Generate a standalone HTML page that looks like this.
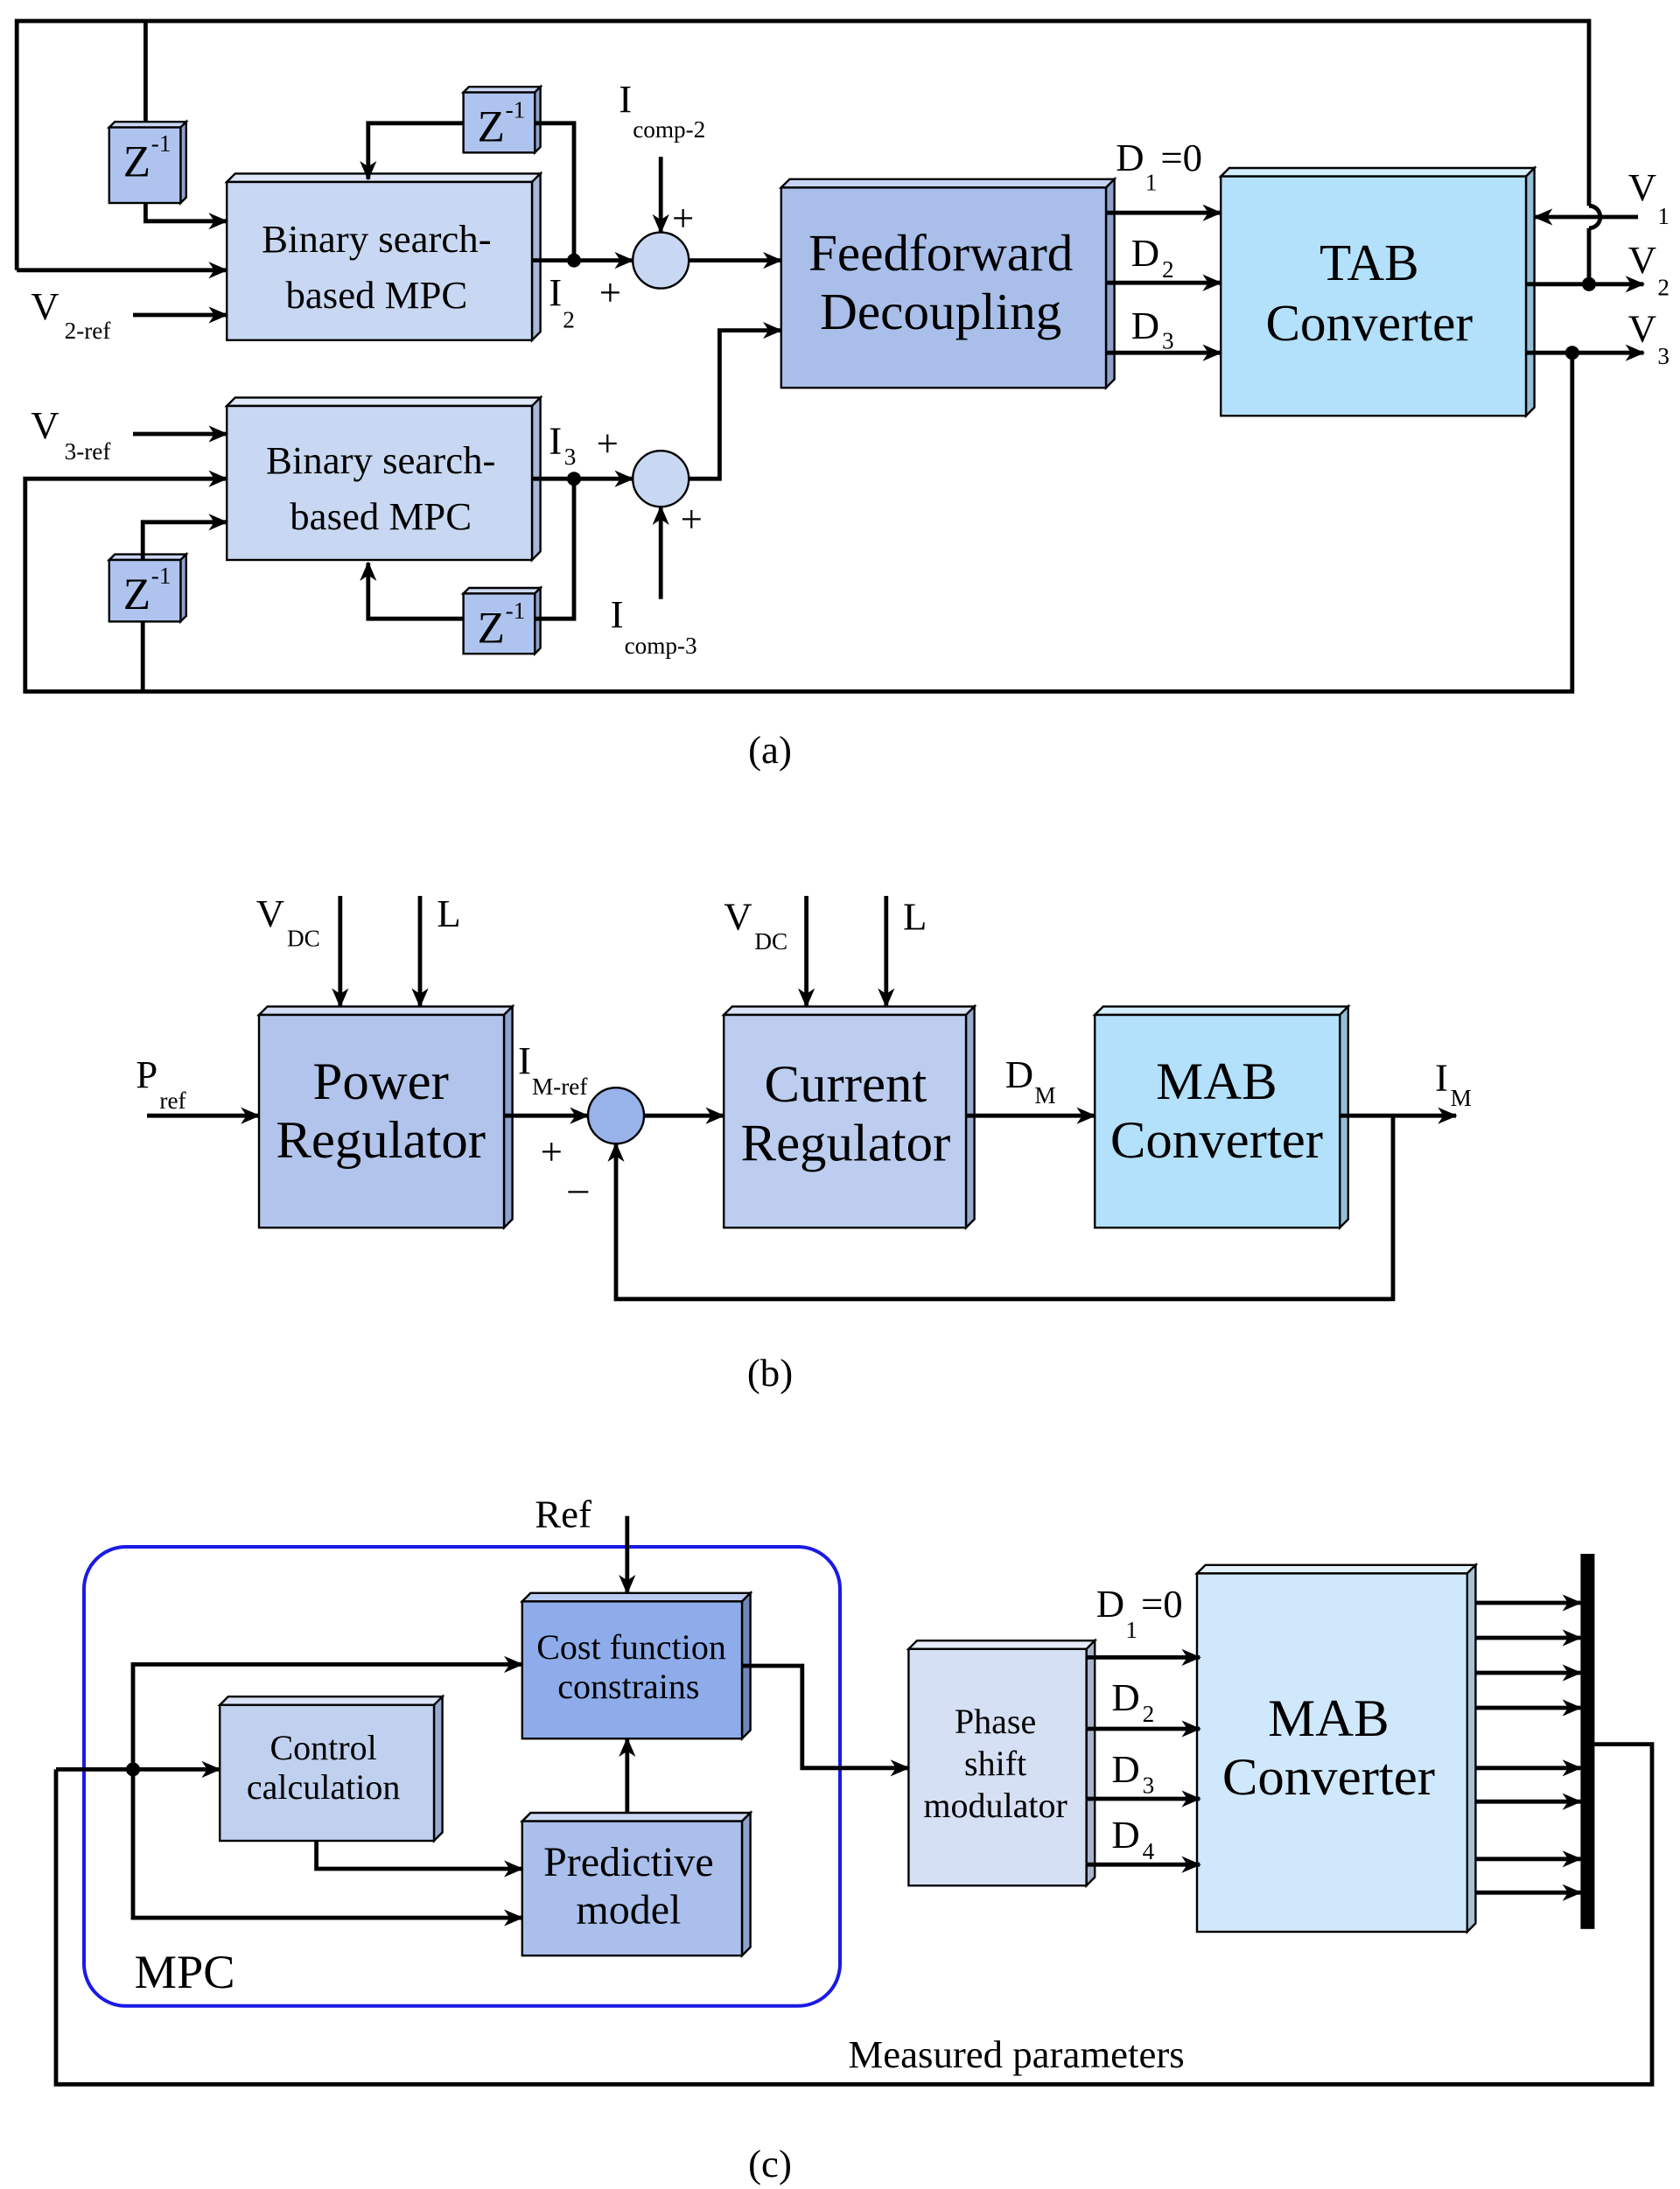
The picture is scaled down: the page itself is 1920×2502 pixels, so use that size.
<!DOCTYPE html>
<html><head><meta charset="utf-8"><style>
html,body{margin:0;padding:0;background:#fff}
svg{display:block}
text{font-family:"Liberation Serif","Times New Roman",serif;fill:#000}
</style></head><body>
<svg width="1920" height="2502" viewBox="0 0 1200 1563.75" preserveAspectRatio="none" xmlns="http://www.w3.org/2000/svg" font-family="Liberation Serif, serif">
<defs>
<marker id="a" markerWidth="14" markerHeight="12" refX="13" refY="6" orient="auto" markerUnits="userSpaceOnUse">
<path d="M0,0 L14,6 L0,12 L4,6 z" fill="#000"/></marker>
</defs>
<g stroke="#000" stroke-width="1.5">
<g>
<polygon points="162,130 168,124 386,124 380,130" fill="#dfe8f8"/><polygon points="380,130 386,124 386,237 380,243" fill="#a8b8d6"/><rect x="162" y="130" width="218" height="113" fill="#c9d8f2"/>
<polygon points="162,290 168,284 386,284 380,290" fill="#dfe8f8"/><polygon points="380,290 386,284 386,394 380,400" fill="#a8b8d6"/><rect x="162" y="290" width="218" height="110" fill="#c9d8f2"/>
<polygon points="558,134 564,128 796,128 790,134" fill="#c6d4f2"/><polygon points="790,134 796,128 796,271 790,277" fill="#8ea2cc"/><rect x="558" y="134" width="232" height="143" fill="#a9bfea"/>
<polygon points="872,126 878,120 1096,120 1090,126" fill="#d3eefd"/><polygon points="1090,126 1096,120 1096,291 1090,297" fill="#94bfd8"/><rect x="872" y="126" width="218" height="171" fill="#b3e0fb"/>
<polygon points="78,91 82,87 133,87 129,91" fill="#cbd8f4"/><polygon points="129,91 133,87 133,141 129,145" fill="#8ea2cc"/><rect x="78" y="91" width="51" height="54" fill="#aec4ee"/>
<polygon points="331,66 335,62 386,62 382,66" fill="#cbd8f4"/><polygon points="382,66 386,62 386,105 382,109" fill="#8ea2cc"/><rect x="331" y="66" width="51" height="43" fill="#aec4ee"/>
<polygon points="78,400 82,396 133,396 129,400" fill="#cbd8f4"/><polygon points="129,400 133,396 133,440 129,444" fill="#8ea2cc"/><rect x="78" y="400" width="51" height="44" fill="#aec4ee"/>
<polygon points="331,424 335,420 386,420 382,424" fill="#cbd8f4"/><polygon points="382,424 386,420 386,463 382,467" fill="#8ea2cc"/><rect x="331" y="424" width="51" height="43" fill="#aec4ee"/>
</g>
<circle cx="472" cy="186" r="20" fill="#c9d8f2"/>
<circle cx="472" cy="342" r="20" fill="#c9d8f2"/>
</g>
<g stroke="#000" stroke-width="3" fill="none">
<polyline points="12,193 12,15 1135,15 1135,147"/>
<path d="M1135,147 a8,8 0 0 1 0,16"/>
<line x1="1135" y1="163" x2="1135" y2="203"/>
<line x1="12" y1="193" x2="162" y2="193" marker-end="url(#a)"/>
<line x1="104" y1="15" x2="104" y2="87"/>
<polyline points="104,145 104,158 162,158" marker-end="url(#a)"/>
<line x1="95" y1="225" x2="162" y2="225" marker-end="url(#a)"/>
<polyline points="331,88 263,88 263,128" marker-end="url(#a)"/>
<polyline points="382,88 410,88 410,186"/>
<line x1="380" y1="186" x2="452" y2="186" marker-end="url(#a)"/>
<line x1="472" y1="112" x2="472" y2="166" marker-end="url(#a)"/>
<line x1="492" y1="186" x2="558" y2="186" marker-end="url(#a)"/>
<line x1="790" y1="152" x2="872" y2="152" marker-end="url(#a)"/>
<line x1="790" y1="202" x2="872" y2="202" marker-end="url(#a)"/>
<line x1="790" y1="252" x2="872" y2="252" marker-end="url(#a)"/>
<line x1="1170" y1="155" x2="1096" y2="155" marker-end="url(#a)"/>
<line x1="1090" y1="203" x2="1174" y2="203" marker-end="url(#a)"/>
<line x1="1090" y1="252" x2="1174" y2="252" marker-end="url(#a)"/>
<polyline points="1123,252 1123,494 18,494 18,342 162,342" marker-end="url(#a)"/>
<line x1="95" y1="310" x2="162" y2="310" marker-end="url(#a)"/>
<line x1="102" y1="494" x2="102" y2="444"/>
<polyline points="102,400 102,373 162,373" marker-end="url(#a)"/>
<line x1="380" y1="342" x2="452" y2="342" marker-end="url(#a)"/>
<polyline points="410,342 410,442 382,442"/>
<polyline points="331,442 263,442 263,402" marker-end="url(#a)"/>
<line x1="472" y1="428" x2="472" y2="362" marker-end="url(#a)"/>
<polyline points="492,342 514,342 514,236 558,236" marker-end="url(#a)"/>
</g>
<g fill="#000"><circle cx="410" cy="186" r="5"/><circle cx="410" cy="342" r="5"/><circle cx="1135" cy="203" r="5"/><circle cx="1123" cy="252" r="5"/></g>
<g font-size="28" text-anchor="middle">
<text x="269" y="180">Binary search-</text><text x="269" y="220">based MPC</text>
<text x="272" y="338">Binary search-</text><text x="272" y="378">based MPC</text>
</g>
<g font-size="37" text-anchor="middle">
<text x="672" y="193">Feedforward</text><text x="672" y="235">Decoupling</text>
<text x="978" y="200">TAB</text><text x="978" y="243">Converter</text>
</g>
<g font-size="28">
<text x="88" y="126" font-size="32">Z</text><text x="108" y="108" font-size="17">-1</text>
<text x="341" y="101" font-size="32">Z</text><text x="361" y="84" font-size="17">-1</text>
<text x="88" y="435" font-size="32">Z</text><text x="108" y="417" font-size="17">-1</text>
<text x="341" y="459" font-size="32">Z</text><text x="361" y="442" font-size="17">-1</text>
<text x="22" y="228">V</text><text x="46" y="242" font-size="17">2-ref</text>
<text x="22" y="313">V</text><text x="46" y="328" font-size="17">3-ref</text>
<text x="442" y="80">I</text><text x="452" y="98" font-size="17">comp-2</text>
<text x="436" y="448">I</text><text x="446" y="467" font-size="17">comp-3</text>
<text x="392" y="218">I</text><text x="402" y="234" font-size="17">2</text>
<text x="392" y="324">I</text><text x="403" y="332" font-size="17">3</text>
<text x="480" y="165">+</text><text x="428" y="218">+</text><text x="426" y="326">+</text><text x="486" y="380">+</text>
<text x="797" y="122">D</text><text x="818" y="136" font-size="17">1</text><text x="829" y="122">=0</text>
<text x="808" y="190">D</text><text x="830" y="198" font-size="17">2</text>
<text x="808" y="242">D</text><text x="830" y="249" font-size="17">3</text>
<text x="1163" y="143">V</text><text x="1184" y="160" font-size="17">1</text>
<text x="1163" y="195">V</text><text x="1184" y="211" font-size="17">2</text>
<text x="1163" y="244">V</text><text x="1184" y="260" font-size="17">3</text>
<text x="550" y="545" text-anchor="middle">(a)</text>
</g>

<g stroke="#000" stroke-width="1.5">
<polygon points="185,725 191,719 366,719 360,725" fill="#d3ddf4"/><polygon points="360,725 366,719 366,871 360,877" fill="#8ea2cc"/><rect x="185" y="725" width="175" height="152" fill="#b2c4ec"/>
<polygon points="517,725 523,719 696,719 690,725" fill="#dae3f6"/><polygon points="690,725 696,719 696,871 690,877" fill="#98aad0"/><rect x="517" y="725" width="173" height="152" fill="#bccdef"/>
<polygon points="782,725 788,719 963,719 957,725" fill="#d3eefd"/><polygon points="957,725 963,719 963,871 957,877" fill="#94bfd8"/><rect x="782" y="725" width="175" height="152" fill="#b3e0fb"/>
<circle cx="440" cy="797" r="20" fill="#98b2ea"/>
</g>
<g stroke="#000" stroke-width="3" fill="none">
<line x1="243" y1="640" x2="243" y2="719" marker-end="url(#a)"/>
<line x1="300" y1="640" x2="300" y2="719" marker-end="url(#a)"/>
<line x1="576" y1="640" x2="576" y2="719" marker-end="url(#a)"/>
<line x1="633" y1="640" x2="633" y2="719" marker-end="url(#a)"/>
<line x1="105" y1="797" x2="185" y2="797" marker-end="url(#a)"/>
<line x1="360" y1="797" x2="420" y2="797" marker-end="url(#a)"/>
<line x1="460" y1="797" x2="517" y2="797" marker-end="url(#a)"/>
<line x1="690" y1="797" x2="782" y2="797" marker-end="url(#a)"/>
<line x1="957" y1="797" x2="1040" y2="797" marker-end="url(#a)"/>
<polyline points="995,797 995,928 440,928 440,817" marker-end="url(#a)"/>
</g>
<g font-size="38" text-anchor="middle">
<text x="272" y="785">Power</text><text x="272" y="827">Regulator</text>
<text x="604" y="787">Current</text><text x="604" y="829">Regulator</text>
<text x="869" y="785">MAB</text><text x="869" y="827">Converter</text>
</g>
<g font-size="28">
<text x="183" y="662">V</text><text x="205" y="676" font-size="17">DC</text><text x="312" y="662">L</text>
<text x="517" y="664">V</text><text x="539" y="678" font-size="17">DC</text><text x="645" y="664">L</text>
<text x="97" y="777">P</text><text x="114" y="792" font-size="17">ref</text>
<text x="370" y="767">I</text><text x="380" y="782" font-size="17">M-ref</text>
<text x="386" y="832">+</text><text x="406" y="858">–</text>
<text x="718" y="777">D</text><text x="739" y="788" font-size="17">M</text>
<text x="1025" y="779">I</text><text x="1036" y="790" font-size="17">M</text>
<text x="550" y="990" text-anchor="middle">(b)</text>
</g>

<rect x="60" y="1105" width="540" height="328" rx="30" fill="none" stroke="#1a1ae6" stroke-width="2.5"/>
<g stroke="#000" stroke-width="1.5">
<polygon points="373,1144 379,1138 536,1138 530,1144" fill="#b9cbf2"/><polygon points="530,1144 536,1138 536,1236 530,1242" fill="#6f86b8"/><rect x="373" y="1144" width="157" height="98" fill="#8eacea"/>
<polygon points="157,1218 163,1212 316,1212 310,1218" fill="#dae3f6"/><polygon points="310,1218 316,1212 316,1309 310,1315" fill="#98aad0"/><rect x="157" y="1218" width="153" height="97" fill="#c0d0ef"/>
<polygon points="373,1301 379,1295 536,1295 530,1301" fill="#ccd8f4"/><polygon points="530,1301 536,1295 536,1391 530,1397" fill="#8ea2cc"/><rect x="373" y="1301" width="157" height="96" fill="#aabfec"/>
<polygon points="649,1178 655,1172 782,1172 776,1178" fill="#e6ecf8"/><polygon points="776,1178 782,1172 782,1341 776,1347" fill="#a8b4cc"/><rect x="649" y="1178" width="127" height="169" fill="#d5e0f4"/>
<polygon points="855,1124 861,1118 1054,1118 1048,1124" fill="#e4f2fd"/><polygon points="1048,1124 1054,1118 1054,1374 1048,1380" fill="#a6c2d6"/><rect x="855" y="1124" width="193" height="256" fill="#d0e8fb"/>
</g>
<rect x="1129" y="1110" width="10" height="268" fill="#000"/>
<g stroke="#000" stroke-width="3" fill="none">
<line x1="448" y1="1083" x2="448" y2="1138" marker-end="url(#a)"/>
<polyline points="40,1264 40,1489 1180,1489 1180,1246 1139,1246"/>
<line x1="40" y1="1264" x2="157" y2="1264" marker-end="url(#a)"/>
<polyline points="95,1264 95,1189 373,1189" marker-end="url(#a)"/>
<polyline points="95,1264 95,1370 373,1370" marker-end="url(#a)"/>
<polyline points="226,1315 226,1335 373,1335" marker-end="url(#a)"/>
<line x1="448" y1="1295" x2="448" y2="1242" marker-end="url(#a)"/>
<polyline points="530,1190 573,1190 573,1263 649,1263" marker-end="url(#a)"/>
<line x1="776" y1="1184" x2="857" y2="1184" marker-end="url(#a)"/>
<line x1="776" y1="1235" x2="857" y2="1235" marker-end="url(#a)"/>
<line x1="776" y1="1285" x2="857" y2="1285" marker-end="url(#a)"/>
<line x1="776" y1="1332" x2="857" y2="1332" marker-end="url(#a)"/>
<line x1="1054" y1="1145" x2="1129" y2="1145" marker-end="url(#a)"/>
<line x1="1054" y1="1170" x2="1129" y2="1170" marker-end="url(#a)"/>
<line x1="1054" y1="1195" x2="1129" y2="1195" marker-end="url(#a)"/>
<line x1="1054" y1="1220" x2="1129" y2="1220" marker-end="url(#a)"/>
<line x1="1054" y1="1263" x2="1129" y2="1263" marker-end="url(#a)"/>
<line x1="1054" y1="1287" x2="1129" y2="1287" marker-end="url(#a)"/>
<line x1="1054" y1="1328" x2="1129" y2="1328" marker-end="url(#a)"/>
<line x1="1054" y1="1352" x2="1129" y2="1352" marker-end="url(#a)"/>
</g>
<circle cx="95" cy="1264" r="5" fill="#000"/>
<g font-size="25" text-anchor="middle">
<text x="451" y="1185">Cost function</text><text x="449" y="1213">constrains</text>
<text x="231" y="1257">Control</text><text x="231" y="1285">calculation</text>
<text x="711" y="1238">Phase</text><text x="711" y="1268">shift</text><text x="711" y="1298">modulator</text>
</g>
<g font-size="30" text-anchor="middle">
<text x="449" y="1340">Predictive</text><text x="449" y="1374">model</text>
</g>
<g font-size="38" text-anchor="middle">
<text x="949" y="1240">MAB</text><text x="949" y="1282">Converter</text>
</g>
<g font-size="28">
<text x="382" y="1091">Ref</text>
<text x="96" y="1420" font-size="34">MPC</text>
<text x="783" y="1155">D</text><text x="804" y="1170" font-size="17">1</text><text x="815" y="1155">=0</text>
<text x="794" y="1222">D</text><text x="816" y="1230" font-size="17">2</text>
<text x="794" y="1273">D</text><text x="816" y="1281" font-size="17">3</text>
<text x="794" y="1320">D</text><text x="816" y="1328" font-size="17">4</text>
<text x="726" y="1477" text-anchor="middle">Measured parameters</text>
<text x="550" y="1555" text-anchor="middle">(c)</text>
</g>
</svg>
</body></html>
